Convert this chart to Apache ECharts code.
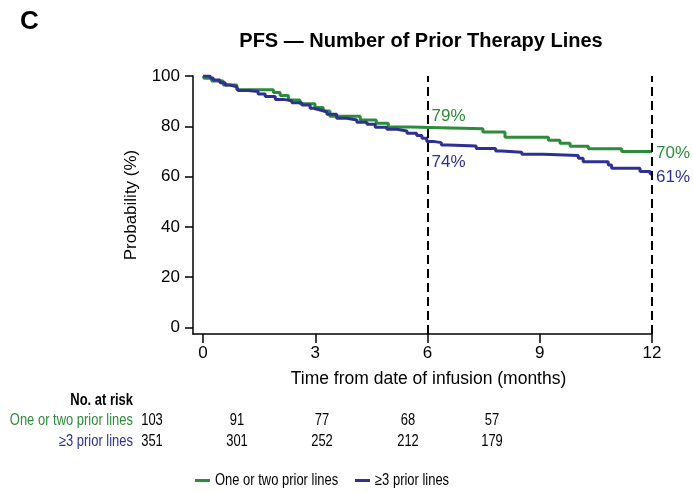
<!DOCTYPE html>
<html>
<head>
<meta charset="utf-8">
<script src="https://cdn.jsdelivr.net/npm/echarts@6/dist/echarts.min.js"></script>
<style>
  html, body { margin: 0; padding: 0; background: #fff; }
  #chart { width: 693px; height: 492px; }
</style>
</head>
<body>
<div id="chart"></div>
<script>
// Kaplan-Meier step estimates: event times (months) and survival (%) after each drop
const greenTimes = [0, 0.03, 0.23, 0.54, 0.9, 1.88, 2.06, 2.28, 2.59, 2.99, 3.21, 3.39, 4.2, 4.63, 4.95, 5.53, 7.48, 8.07, 9.23, 9.54, 9.81, 10.3, 11.19, 12];
const greenSurv  = [100, 99.1, 98.0, 96.4, 94.5, 93.4, 92.2, 90.5, 89.0, 87.5, 86.1, 84.0, 82.5, 81.2, 79.7, 79, 77.7, 75.6, 74.4, 73.3, 72.1, 71.1, 70, 70];

const blueTimes = [0, 0.19, 0.27, 0.45, 0.59, 0.72, 0.9, 0.94, 1.2, 1.47, 1.66, 1.93, 2.15, 2.37, 2.64, 2.86, 2.95, 3.13, 3.31, 3.57, 3.84, 4.11, 4.38, 4.6, 4.91, 5.18, 5.45, 5.71, 5.85, 5.98, 6.15, 6.37, 6.55, 7.3, 7.82, 7.98, 8.52, 9.1, 10.03, 10.16, 10.83, 10.92, 11.68, 11.95, 12];
const blueSurv  = [100, 99.2, 98.4, 97.3, 96.4, 95.7, 95.1, 94.2, 93.8, 92.8, 91.8, 90.7, 90.2, 89.4, 88.5, 87.2, 86.5, 85.8, 84.8, 83.2, 82.5, 81.6, 80.8, 79.6, 78.8, 78.1, 77.2, 76.3, 75.2, 74, 73.5, 72.6, 72.2, 71.2, 70.2, 69.7, 68.9, 68.4, 67.3, 65.9, 64.6, 63.3, 62.0, 61, 61];

const seriesNames = ['One or two prior lines', '\u22653 prior lines'];
const seriesColors = ['#2e8b3b', '#2e3192'];

// Landmark estimates annotated on the curves
const landmarkMonths = [6, 12];
const greenLandmarks = [79, 70];
const blueLandmarks  = [74, 61];

const xTicks = [0, 3, 6, 9, 12];
const yTicks = [0, 20, 40, 60, 80, 100];

// Number at risk table
const riskHeader = 'No. at risk';
const riskGreen = [103, 91, 77, 68, 57];
const riskBlue  = [351, 301, 252, 212, 179];

const FONT = '"Liberation Sans", Arial, Helvetica, sans-serif';
const SQUEEZE = 0.81; // condensed lettering for the table and key
const chart = echarts.init(document.getElementById('chart'));

function narrowText(x, y, text, fill, align, bold) {
  return {
    type: 'text', x: x, y: y, scaleX: SQUEEZE,
    style: { text: text, fill: fill, font: (bold ? 'bold ' : '') + '16px ' + FONT, align: align, verticalAlign: 'middle' }
  };
}

const riskCols = [152, 237, 322, 408, 492];
const riskGraphics = [
  narrowText(133, 401, riskHeader, '#000', 'right', true),
  narrowText(133, 421, seriesNames[0], seriesColors[0], 'right'),
  narrowText(133, 442, seriesNames[1], seriesColors[1], 'right')
];
riskGreen.forEach((v, i) => riskGraphics.push(narrowText(riskCols[i], 421, String(v), '#000', 'center')));
riskBlue.forEach((v, i) => riskGraphics.push(narrowText(riskCols[i], 442, String(v), '#000', 'center')));

// Key below the table
const keyX = [195, 355];
const keyGraphics = [];
seriesNames.forEach((name, i) => {
  keyGraphics.push({ type: 'rect', shape: { x: keyX[i], y: 479, width: 15, height: 3 }, style: { fill: seriesColors[i] } });
  keyGraphics.push(narrowText(keyX[i] + 20, 481, name, '#000', 'left'));
});

function landmarkPoints(values, offsets) {
  return landmarkMonths.map((m, i) => ({
    coord: [m, values[i]],
    value: values[i],
    label: { offset: offsets[i] }
  }));
}

chart.setOption({
  animation: false,
  textStyle: { fontFamily: FONT },
  grid: { left: 193, top: 76, width: 459, height: 258 },
  graphic: [
    { type: 'text', x: 20, y: 22, style: { text: 'C', fill: '#000', font: 'bold 26px ' + FONT, verticalAlign: 'middle' } },
    { type: 'text', x: 421, y: 41, style: { text: 'PFS \u2014 Number of Prior Therapy Lines', fill: '#000', font: 'bold 20px ' + FONT, align: 'center', verticalAlign: 'middle' } }
  ].concat(riskGraphics, keyGraphics),
  xAxis: {
    type: 'value', min: -0.27, max: 12,
    name: 'Time from date of infusion (months)',
    nameLocation: 'middle', nameGap: 36,
    nameTextStyle: { fontSize: 17.5, color: '#000', padding: [0, 0, 0, 12] },
    axisLine: { onZero: false, lineStyle: { color: '#000', width: 1.5 } },
    axisTick: { customValues: xTicks, length: 9, lineStyle: { color: '#000', width: 1.5 } },
    axisLabel: { customValues: xTicks, fontSize: 17, color: '#000', margin: 11 },
    splitLine: { show: false }
  },
  yAxis: {
    type: 'value', min: -2.6, max: 100,
    name: 'Probability (%)',
    nameLocation: 'middle', nameGap: 53, nameRotate: 90,
    nameTextStyle: { fontSize: 17, color: '#000' },
    axisLine: { show: true, onZero: false, lineStyle: { color: '#000', width: 1.5 } },
    axisTick: { show: true, customValues: yTicks, length: 8, lineStyle: { color: '#000', width: 1.5 } },
    axisLabel: { customValues: yTicks, fontSize: 17, color: '#000', margin: 13 },
    splitLine: { show: false }
  },
  series: [
    {
      name: seriesNames[0], type: 'line', step: 'end', symbol: 'none',
      data: greenTimes.map((t, i) => [t, greenSurv[i]]),
      lineStyle: { color: seriesColors[0], width: 3 },
      itemStyle: { color: seriesColors[0] },
      markLine: {
        silent: true, symbol: 'none', label: { show: false },
        lineStyle: { color: '#000', width: 2, type: [9, 5] },
        data: landmarkMonths.map(m => ({ xAxis: m }))
      },
      markPoint: {
        symbol: 'circle', symbolSize: 0,
        label: { show: true, position: 'right', distance: 4, color: seriesColors[0], fontSize: 17, formatter: p => p.value + '%' },
        data: landmarkPoints(greenLandmarks, [[0, -12], [0, 1.5]])
      }
    },
    {
      name: seriesNames[1], type: 'line', step: 'end', symbol: 'none',
      data: blueTimes.map((t, i) => [t, blueSurv[i]]),
      lineStyle: { color: seriesColors[1], width: 3 },
      itemStyle: { color: seriesColors[1] },
      markPoint: {
        symbol: 'circle', symbolSize: 0,
        label: { show: true, position: 'right', distance: 4, color: seriesColors[1], fontSize: 17, formatter: p => p.value + '%' },
        data: landmarkPoints(blueLandmarks, [[0, 21], [0, 3]])
      }
    }
  ]
});
</script>
</body>
</html>
